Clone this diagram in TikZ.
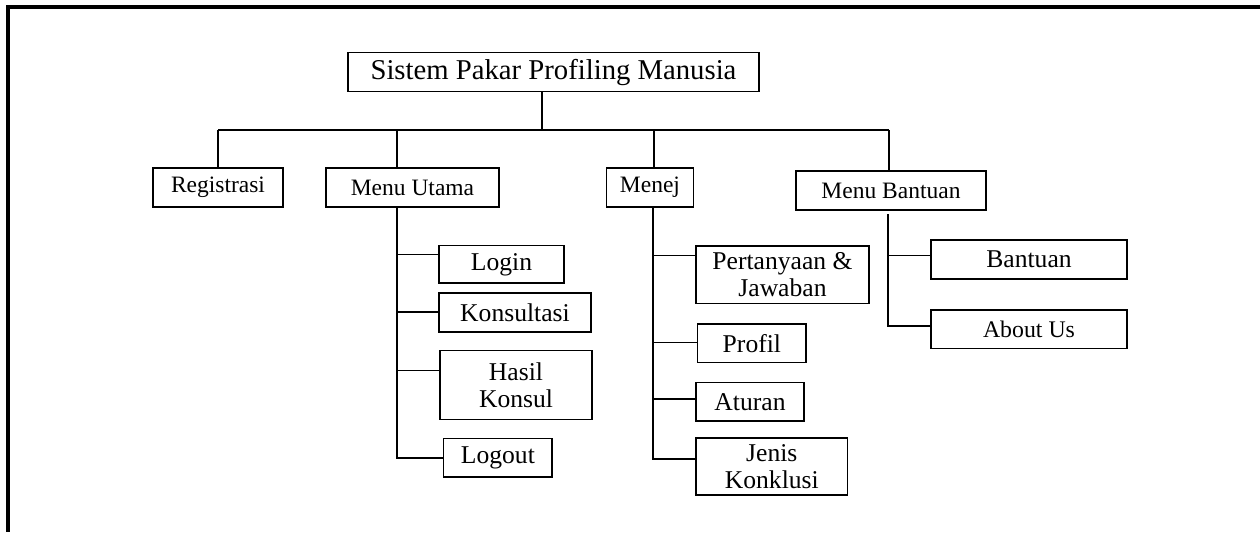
\documentclass[tikz,border=0pt]{standalone}
\usepackage{fontspec}
\setmainfont{Liberation Serif}
\begin{document}
\begin{tikzpicture}[x=0.5pt,y=-0.5pt,
  line width=0.6pt,
  box/.style={draw, line width=0.6pt, inner sep=0pt, align=center},
  wh/.style 2 args={minimum width=#1*0.5pt, minimum height=#2*0.5pt},
  menu/.style={box, font=\fontsize{11.75}{13.5}\selectfont},
  leaf/.style={box, font=\fontsize{12.8}{13.5}\selectfont},
  link/.style={draw, line width=0.6pt},
  frame/.style={draw, line width=1.6pt, line join=miter}
]
\useasboundingbox (0,0) rectangle (1260,532);
% frame
\coordinate (fa) at (1260,7);
\coordinate (fb) at (8,7);
\coordinate (fc) at (8,532);
\draw[frame] (fa) -- (fb) -- (fc);

% root
\node[box, font=\fontsize{14.35}{16}\selectfont, wh={411}{38.3}] (root) at (553.5,72) {Sistem Pakar Profiling Manusia};

% level 1
\node[menu, wh={130}{39}] (reg) at (218,187.5) {Registrasi};
\node[menu, wh={173}{39}] (mu) at (412.5,187.5) {Menu Utama};
\node[menu, wh={86.5}{39}] (mj) at (650,187.5) {Menej};
\node[menu, wh={190}{39}] (mb) at (891,190.5) {Menu Bantuan};

% Menu Utama children
\node[leaf, wh={125}{37.3}] (login) at (501.5,264.4) {Login};
\node[leaf, wh={152}{39}] (kons) at (515,312.5) {Konsultasi};
\node[leaf, wh={152}{68.3}] (hasil) at (516,385) {Hasil\\Konsul};
\node[leaf, wh={108.3}{38.3}] (logout) at (497.9,457.9) {Logout};

% Menej children
\node[leaf, wh={173}{57.7}] (tanya) at (782.5,274.9) {Pertanyaan \&\\Jawaban};
\node[leaf, wh={108.3}{38.7}] (profil) at (751.9,343.4) {Profil};
\node[leaf, wh={108}{38.3}] (aturan) at (750,401.9) {Aturan};
\node[leaf, wh={151.5}{57}] (jenis) at (771.8,466.5) {Jenis\\Konklusi};

% Menu Bantuan children
\node[leaf, wh={196}{39}] (bant) at (1029,259.5) {Bantuan};
\node[menu, font=\fontsize{11.9}{13.5}\selectfont, wh={196}{38.7}] (about) at (1029,329.4) {About Us};

% bus
\coordinate (b0) at (542,130);
\coordinate (bR) at (218,130);
\coordinate (bU) at (397,130);
\coordinate (bM) at (654,130);
\coordinate (bB) at (889,130);
\draw[link] (root.south -| b0) -- (b0);
\draw[link] (bR) -- (bB);
\draw[link] (bR) -- (reg.north);
\draw[link] (bU) -- (bU |- mu.north);
\draw[link] (bM) -- (bM |- mj.north);
\draw[link] (bB) -- (bB |- mb.north);

% Menu Utama tree
\coordinate (u1) at (397,254.7);
\coordinate (u2) at (397,312);
\coordinate (u3) at (397,370.7);
\coordinate (u4) at (397,458);
\draw[link] (u4 |- mu.south) -- (u4) -- (logout.west |- u4);
\draw[link] (u1) -- (login.west |- u1);
\draw[link] (u2) -- (kons.west |- u2);
\draw[link] (u3) -- (hasil.west |- u3);

% Menej tree
\coordinate (m1) at (653,255.7);
\coordinate (m2) at (653,342.7);
\coordinate (m3) at (653,399);
\coordinate (m4) at (653,459);
\draw[link] (m4 |- mj.south) -- (m4) -- (jenis.west |- m4);
\draw[link] (m1) -- (tanya.west |- m1);
\draw[link] (m2) -- (profil.west |- m2);
\draw[link] (m3) -- (aturan.west |- m3);

% Menu Bantuan tree
\coordinate (t0) at (888,214);
\coordinate (t1) at (888,255.7);
\coordinate (t2) at (888,326);
\draw[link] (t0) -- (t2) -- (about.west |- t2);
\draw[link] (t1) -- (bant.west |- t1);
\end{tikzpicture}
\end{document}
